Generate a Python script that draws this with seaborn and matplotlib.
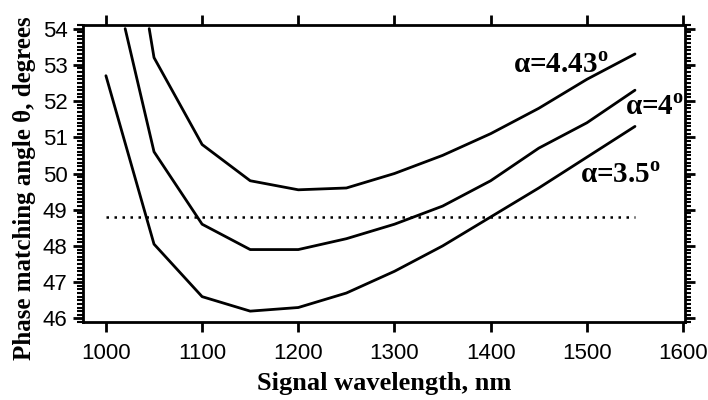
import numpy as np
import pandas as pd
import seaborn as sns
import matplotlib
matplotlib.use("Agg")
import matplotlib.pyplot as plt
from matplotlib.ticker import AutoMinorLocator

## Data
wl_35 = [1000, 1050, 1100, 1150, 1200, 1250, 1300, 1350, 1400, 1450, 1500, 1550]
theta_35 = [52.7, 48.05, 46.6, 46.2, 46.3, 46.7, 47.3, 48.0, 48.8, 49.6, 50.45, 51.3]

wl_40 = [1020, 1050, 1100, 1150, 1200, 1250, 1300, 1350, 1400, 1450, 1500, 1550]
theta_40 = [54.0, 50.6, 48.6, 47.9, 47.9, 48.2, 48.6, 49.1, 49.8, 50.7, 51.4, 52.3]

wl_443 = [1045, 1050, 1100, 1150, 1200, 1250, 1300, 1350, 1400, 1450, 1500, 1550]
theta_443 = [54.0, 53.2, 50.8, 49.8, 49.55, 49.6, 50.0, 50.5, 51.1, 51.8, 52.6, 53.3]

ref_wl = [1000, 1550]
ref_theta = [48.8, 48.8]

labels = ["α=3.5", "α=4", "α=4.43"]
label_x = [1493, 1540, 1423]
label_y = [49.94, 51.82, 52.98]

sns.set_style("ticks")
plt.rcParams['font.family'] = ['Liberation Sans', 'DejaVu Sans']
plt.rcParams['text.color'] = 'black'
plt.rcParams['axes.labelcolor'] = 'black'

fig = plt.figure(figsize=(7.08, 4.0), dpi=100)
ax = fig.add_axes([0.117, 0.195, 0.8505, 0.7425])

for wl, th in [(wl_35, theta_35), (wl_40, theta_40), (wl_443, theta_443)]:
    sns.lineplot(x=wl, y=th, ax=ax, color="black", linewidth=2)

sns.lineplot(x=ref_wl, y=ref_theta, ax=ax, color="black", linewidth=1.8).lines[-1].set_dashes((1, 2.2))

for lab, lx, ly in zip(labels, label_x, label_y):
    ax.text(lx, ly, lab + r"$^\mathregular{o}$", fontsize=21, fontweight="bold",
            family="Liberation Serif", va="center", ha="left", color="black")

ax.set_xlim(976, 1602)
ax.set_ylim(45.9, 54.1)
ax.set_xticks([1000, 1100, 1200, 1300, 1400, 1500, 1600])
ax.set_yticks([46, 47, 48, 49, 50, 51, 52, 53, 54])
ax.yaxis.set_minor_locator(AutoMinorLocator(10))

for s in ax.spines.values():
    s.set_visible(True)
    s.set_linewidth(2)
    s.set_color("black")

ax.tick_params(axis="both", which="major", direction="out", length=7, width=2,
               labelsize=16, colors="black", pad=4)
ax.tick_params(axis="x", top=True, labeltop=False, pad=8)
ax.tick_params(axis="y", right=True, labelright=False)
ax.tick_params(axis="y", which="minor", direction="out", length=4, width=1.5,
               left=True, right=True, colors="black")

ax.set_xlabel("Signal wavelength, nm", fontsize=19, fontweight="bold",
              family="Liberation Serif", labelpad=6, color="black")
ax.set_ylabel("Phase matching angle θ, degrees", fontsize=18, fontweight="bold",
              family="Liberation Serif", labelpad=3, color="black")
ax.yaxis.set_label_coords(-0.078, 0.45)

fig.savefig("out.png", dpi=100)
